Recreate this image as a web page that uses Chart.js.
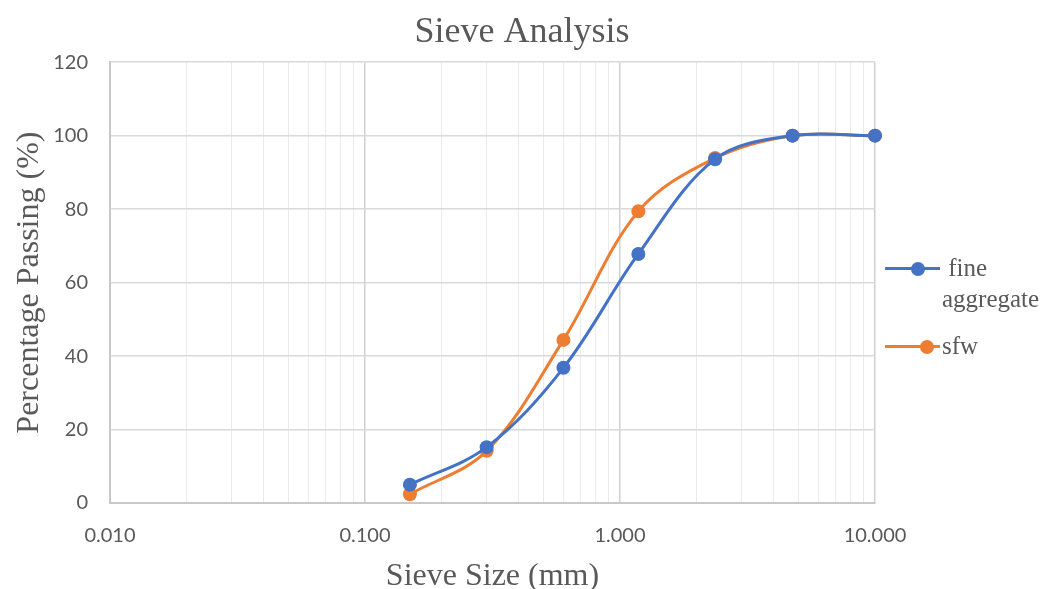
<!DOCTYPE html>
<html>
<head>
<meta charset="utf-8">
<script src="https://cdn.jsdelivr.net/npm/chart.js@4/dist/chart.umd.min.js"></script>
<style>
  body { margin: 0; background: #fff; }
  #wrap { position: relative; width: 1044px; height: 589px; overflow: hidden; }
  #legend { position: absolute; left: 885px; top: 253px; font-family: 'Liberation Serif', serif; font-size: 25px; color: #595959; }
  .item { position: absolute; left: 0; width: 200px; height: 30px; }
  .swatch { position: absolute; left: 0; width: 55px; height: 3px; }
  .dot { position: absolute; width: 14px; height: 14px; border-radius: 50%; top: -5.5px; }
  .txt { position: absolute; left: 57px; white-space: pre; line-height: 30px; }
</style>
</head>
<body>
<div id="wrap">
  <canvas id="myChart" width="1044" height="589"></canvas>
  <div id="legend"></div>
</div>
<script>
document.addEventListener('DOMContentLoaded', () => {
    const sieveSizes = [0.15, 0.3, 0.6, 1.18, 2.36, 4.75, 10];
    const fineAggregate = [5, 15.2, 36.8, 67.8, 93.6, 100, 100];
    const sfw = [2.4, 14.2, 44.4, 79.4, 93.9, 100, 100];
    const decadeTicks = [0.01, 0.1, 1, 10];
    const yTicks = [0, 20, 40, 60, 80, 100, 120];

    const blue = '#4472C4';
    const orange = '#ED7D31';
    const serif = 'Liberation Serif';
    const sans = 'Lato';

    // decades plus 2..9 minors for the log grid
    const gridTicks = [];
    decadeTicks.forEach((d, i) => {
        gridTicks.push(d);
        if (i < decadeTicks.length - 1) {
            for (let m = 2; m <= 9; m++) gridTicks.push(+(d * m).toPrecision(3));
        }
    });
    const isDecade = v => decadeTicks.some(d => Math.abs(d - v) < 1e-9);

    const ctx = document.getElementById('myChart').getContext('2d');
    new Chart(ctx, {
        type: 'line',
        data: {
            datasets: [{
                label: 'fine aggregate',
                data: sieveSizes.map((s, i) => ({x: s, y: fineAggregate[i]})),
                borderColor: blue,
                backgroundColor: blue,
                borderWidth: 3,
                pointRadius: 7,
                pointBorderWidth: 0,
                tension: 0.35,
                clip: false
            }, {
                label: 'sfw',
                data: sieveSizes.map((s, i) => ({x: s, y: sfw[i]})),
                borderColor: orange,
                backgroundColor: orange,
                borderWidth: 3,
                pointRadius: 7,
                pointBorderWidth: 0,
                tension: 0.35,
                clip: false
            }]
        },
        options: {
            responsive: false,
            animation: false,
            layout: { padding: 0 },
            plugins: {
                legend: { display: false },
                tooltip: { enabled: false },
                title: {
                    display: true,
                    text: 'Sieve Analysis',
                    color: '#595959',
                    font: { family: serif, size: 36, weight: 'normal' },
                    padding: { top: 11, bottom: 8 }
                }
            },
            scales: {
                x: {
                    type: 'logarithmic',
                    min: 0.01,
                    max: 10,
                    afterBuildTicks: axis => { axis.ticks = gridTicks.map(v => ({value: v, major: isDecade(v)})); },
                    afterFit: scale => { scale.height = 86; },
                    ticks: {
                        autoSkip: false,
                        maxRotation: 0,
                        padding: 21,
                        color: '#595959',
                        font: { family: sans, size: 20 },
                        callback: v => isDecade(v) ? v.toFixed(3) : ''
                    },
                    grid: {
                        drawTicks: false,
                        color: c => isDecade(c.tick.value) ? '#d0d0d0' : '#ebebeb',
                        lineWidth: c => isDecade(c.tick.value) ? 1.5 : 1
                    },
                    border: { color: '#c8c8c8', width: 2 },
                    title: {
                        display: true,
                        text: 'Sieve Size (mm)',
                        color: '#595959',
                        font: { family: serif, size: 32, lineHeight: 1 },
                        padding: { top: 0, bottom: -4 }
                    }
                },
                y: {
                    min: 0,
                    max: 120,
                    afterBuildTicks: axis => { axis.ticks = yTicks.map(v => ({value: v})); },
                    afterFit: scale => { scale.width = 110; },
                    ticks: {
                        padding: 22,
                        color: '#595959',
                        font: { family: sans, size: 20 }
                    },
                    grid: { drawTicks: false, color: '#d9d9d9', lineWidth: 1.5 },
                    border: { color: '#c8c8c8', width: 2 },
                    title: {
                        display: true,
                        text: 'Percentage Passing (%)',
                        color: '#595959',
                        font: { family: serif, size: 32, lineHeight: 1 },
                        padding: { top: 14, bottom: 0 }
                    }
                },
                // empty right-hand axis only reserves room for the HTML legend
                yRight: {
                    position: 'right',
                    display: true,
                    afterFit: scale => { scale.width = 169; },
                    ticks: { display: false },
                    grid: { display: false },
                    border: { display: false }
                }
            }
        }
    });

    // legend drawn in HTML so the long label can wrap like the original
    const legend = document.getElementById('legend');
    const items = [
        { color: blue, lines: [' fine', 'aggregate'], dot: 26, top: 0 },
        { color: orange, lines: ['sfw'], dot: 35, top: 78 }
    ];
    items.forEach(it => {
        const row = document.createElement('div');
        row.className = 'item';
        row.style.top = it.top + 'px';
        const sw = document.createElement('div');
        sw.className = 'swatch';
        sw.style.background = it.color;
        sw.style.top = '14px';
        const dot = document.createElement('div');
        dot.className = 'dot';
        dot.style.background = it.color;
        dot.style.left = it.dot + 'px';
        sw.appendChild(dot);
        row.appendChild(sw);
        it.lines.forEach((t, j) => {
            const s = document.createElement('div');
            s.className = 'txt';
            s.style.top = (j * 31) + 'px';
            s.textContent = t;
            row.appendChild(s);
        });
        legend.appendChild(row);
    });
});
</script>
</body>
</html>
